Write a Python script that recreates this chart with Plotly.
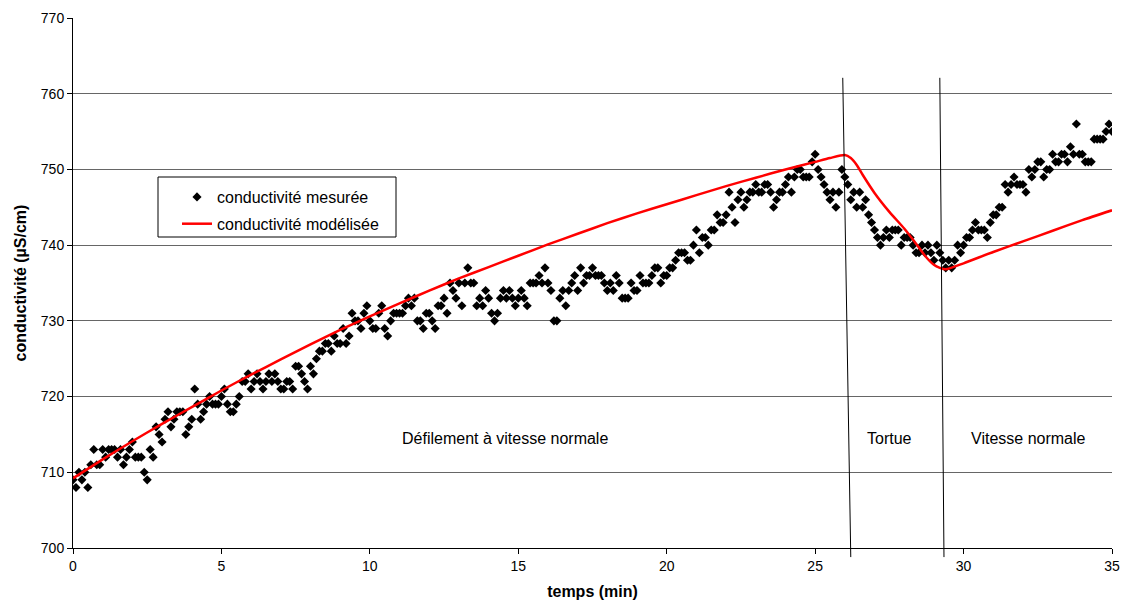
import plotly.graph_objects as go

# ---------------- data ----------------
pas_temps = 0.1  # sampling step (min)

# measured conductivity, one row per minute (10 samples / min), from t = 0 to t = 35 min
conductivite_mesuree = [
    709, 708, 710, 709, 710, 708, 711, 713, 711, 711,
    713, 712, 713, 713, 713, 712, 713, 711, 712, 713,
    714, 712, 712, 712, 710, 709, 713, 712, 716, 715,
    714, 717, 718, 716, 717, 718, 718, 718, 715, 716,
    717, 721, 719, 717, 718, 719, 720, 719, 719, 719,
    720, 721, 719, 718, 718, 719, 720, 722, 722, 723,
    721, 722, 723, 722, 721, 722, 723, 722, 723, 722,
    721, 721, 722, 722, 721, 724, 724, 723, 722, 721,
    724, 723, 725, 726, 726, 727, 727, 726, 728, 727,
    727, 729, 727, 728, 731, 730, 730, 729, 731, 732,
    730, 729, 729, 731, 732, 729, 728, 730, 731, 731,
    731, 731, 732, 733, 732, 733, 730, 730, 729, 731,
    731, 730, 729, 732, 732, 733, 731, 735, 734, 733,
    735, 732, 735, 737, 735, 735, 732, 733, 732, 734,
    733, 731, 730, 731, 733, 734, 733, 734, 733, 732,
    733, 734, 733, 732, 735, 735, 735, 736, 735, 737,
    735, 734, 730, 730, 733, 734, 732, 734, 735, 736,
    734, 737, 735, 736, 736, 737, 736, 736, 736, 735,
    734, 735, 734, 736, 735, 733, 733, 733, 735, 734,
    734, 736, 735, 735, 735, 736, 737, 737, 735, 736,
    736, 737, 737, 738, 739, 739, 739, 738, 738, 740,
    742, 739, 741, 741, 740, 742, 742, 744, 743, 743,
    744, 747, 745, 743, 746, 747, 745, 746, 747, 747,
    748, 747, 747, 748, 748, 747, 745, 746, 747, 747,
    748, 749, 747, 749, 750, 750, 749, 749, 749, 751,
    752, 750, 749, 748, 747, 746, 747, 745, 747, 750,
    749, 748, 746, 747, 745, 747, 745, 746, 744, 743,
    742, 741, 740, 741, 742, 741, 742, 742, 742, 740,
    741, 741, 741, 740, 739, 739, 740, 739, 740, 739,
    738, 740, 739, 738, 737, 738, 737, 738, 740, 739,
    740, 741, 741, 742, 743, 742, 742, 742, 741, 743,
    744, 744, 745, 745, 748, 747, 748, 749, 748, 748,
    748, 747, 750, 749, 750, 751, 751, 749, 750, 750,
    752, 751, 751, 752, 752, 751, 753, 752, 756, 752,
    752, 751, 751, 751, 754, 754, 754, 754, 755, 756,
    755,
]
temps_mesure = [round(i * pas_temps, 1) for i in range(len(conductivite_mesuree))]

# modelled conductivity
temps_modele = [0, 1, 2, 3, 4, 5, 6, 7, 8, 9, 10, 11, 12, 13, 14, 15, 16, 17, 18, 19,
                20, 21, 22, 23, 24, 25, 25.5, 26.0, 26.2, 26.4, 26.6, 27.0, 27.5, 28.0,
                28.4, 28.7, 29.0, 29.2, 29.4, 30, 31, 32, 33, 34, 35]
conductivite_modelisee = [709.2, 711.7, 714.1, 716.4, 718.6, 720.8, 722.9, 724.9, 726.9,
                          728.8, 730.6, 732.3, 734.0, 735.6, 737.1, 738.6, 740.1, 741.5,
                          742.9, 744.2, 745.4, 746.6, 747.8, 748.9, 750.0, 751.0, 751.5,
                          751.9, 751.5, 750.6, 749.3, 746.9, 744.4, 742.2, 740.2, 738.6,
                          737.4, 737.0, 736.8, 737.6, 739.1, 740.5, 741.9, 743.3, 744.6]

# phase separator lines (time at top, time at bottom) and phase labels
separateurs = [(25.93, 26.2), (29.2, 29.34)]
sep_y_haut, sep_y_bas = 762.1, 698.8
phases = ["Défilement à vitesse normale", "Tortue", "Vitesse normale"]
phases_t = [14.55, 27.5, 32.2]
phases_y = 714.5

x_range = [0, 35]
y_range = [700, 770]

# ---------------- figure ----------------
FONT = "Arial, 'Liberation Sans', sans-serif"

fig = go.Figure()
fig.add_trace(go.Scatter(
    x=temps_mesure, y=conductivite_mesuree, mode="markers",
    name="conductivité mesurée", legendgroup="a",
    marker=dict(symbol="diamond", size=7, color="black", line=dict(width=0)),
))
fig.add_trace(go.Scatter(
    x=temps_modele, y=conductivite_modelisee, mode="lines",
    name="conductivité modélisée", legendgroup="b",
    line=dict(color="#ff0000", width=2.5, shape="spline", smoothing=0.6),
))

def px_x(t):
    return (t - x_range[0]) / (x_range[1] - x_range[0])

def px_y(v):
    return (v - y_range[0]) / (y_range[1] - y_range[0])

# plot area: 1039 x 530 px
PW, PH = 1039.0, 530.0

shapes = []
for (t0, t1) in separateurs:
    shapes.append(dict(type="line", xref="paper", yref="paper",
                       x0=px_x(t0), y0=px_y(sep_y_haut), x1=px_x(t1), y1=px_y(sep_y_bas),
                       line=dict(color="black", width=1), layer="above"))
# legend frame
shapes.append(dict(type="rect", xref="paper", yref="paper",
                   x0=85 / PW, x1=323 / PW, y0=(530 - 219) / PH, y1=(530 - 159) / PH,
                   line=dict(color="black", width=1), fillcolor="white", layer="below"))

annotations = [dict(x=t, y=phases_y, xref="x", yref="y", text=txt, showarrow=False,
                    font=dict(family=FONT, size=16, color="black"))
               for txt, t in zip(phases, phases_t)]

fig.update_layout(
    width=1122, height=600,
    margin=dict(l=73, r=10, t=18, b=52, autoexpand=False),
    paper_bgcolor="white", plot_bgcolor="white",
    font=dict(family=FONT, size=14, color="black"),
    showlegend=True,
    legend=dict(x=104 / PW, y=(530 - 162) / PH, xanchor="left", yanchor="top",
                bgcolor="rgba(0,0,0,0)", borderwidth=0,
                font=dict(family=FONT, size=16, color="black"),
                tracegroupgap=3, itemwidth=30),
    shapes=shapes,
    annotations=annotations,
)
fig.update_xaxes(range=x_range, dtick=5, tick0=0, showgrid=False, zeroline=False,
                 showline=True, linecolor="black", linewidth=1, automargin=False,
                 ticks="outside", ticklen=5, tickcolor="black",
                 tickfont=dict(family=FONT, size=14),
                 title=dict(text="<b>temps (min)</b>", font=dict(family=FONT, size=16), standoff=14))
fig.update_yaxes(range=y_range, dtick=10, tick0=700, showgrid=True, gridcolor="#666666",
                 gridwidth=1, zeroline=False, automargin=False,
                 showline=True, linecolor="black", linewidth=1,
                 ticks="outside", ticklen=5, tickcolor="black",
                 tickfont=dict(family=FONT, size=14),
                 title=dict(text="<b>conductivité (µS/cm)</b>", font=dict(family=FONT, size=16), standoff=10))

fig.write_html("out.html", config={"displayModeBar": False},
               post_script="document.body.style.margin='0';document.body.style.overflow='hidden';")
